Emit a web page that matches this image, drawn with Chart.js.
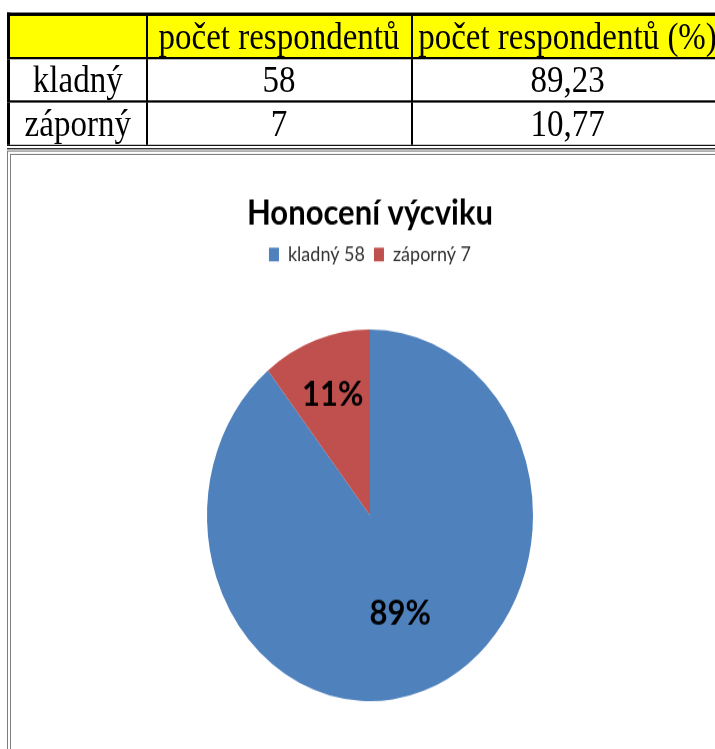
<!DOCTYPE html>
<html>
<head>
<meta charset="utf-8">
<script src="https://cdn.jsdelivr.net/npm/chart.js@4.4.0/dist/chart.umd.min.js"></script>
<style>
  html, body { margin: 0; height: 749px; overflow: hidden; background: #fff; }
  .page {
    position: relative; width: 715px; height: 700px; overflow: hidden;
    transform: scaleY(1.14); transform-origin: 0 0;
  }
  table.data {
    position: absolute; left: 7px; top: 11px; width: 714px;
    border-collapse: collapse; table-layout: fixed;
    font-family: "Liberation Serif", "Times New Roman", serif; font-size: 33px;
    color: #000;
  }
  table.data td {
    border: 2px solid #000; text-align: center; padding: 0; line-height: 1;
    white-space: nowrap; height: 36px;
  }
  table.data tr:first-child td { background: #ffff00; border-top-width: 3px; }
  table.data td:first-child { border-left-width: 3px; }
  table.data td:last-child { border-right: none; }
  table.data tr:last-child td { border-bottom: 4px double #000; height: 37px; }
  .box {
    position: absolute; left: 7px; top: 132px; width: 740px; height: 640px;
    border-left: 4px double #7f7f7f; border-top: 4px double #7f7f7f;
  }
  .chart-wrap { position: absolute; left: 0; top: 0; width: 724px; height: 540px; }
</style>
</head>
<body>
<div class="page">
  <table class="data">
    <colgroup><col style="width:138px"><col style="width:265px"><col style="width:311px"></colgroup>
    <tbody id="tbl"></tbody>
  </table>
  <div class="box">
    <div class="chart-wrap"><canvas id="pie"></canvas></div>
  </div>
</div>
<script>
var headers = ["", "počet respondentů", "počet respondentů (%)"];
var categories = ["kladný", "záporný"];
var counts = [58, 7];
var percents = ["89,23", "10,77"];
var chartTitle = "Honocení výcviku";
var colors = ["#4f81bd", "#c0504d"];

function build_table() {
  var tbl = document.getElementById("tbl");
  var tr = document.createElement("tr");
  headers.forEach(function (h) {
    var td = document.createElement("td");
    td.textContent = h;
    tr.appendChild(td);
  });
  tbl.appendChild(tr);
  categories.forEach(function (c, i) {
    var row = document.createElement("tr");
    [c, counts[i], percents[i]].forEach(function (v) {
      var td = document.createElement("td");
      td.textContent = v;
      row.appendChild(td);
    });
    tbl.appendChild(row);
  });
}

// percentage labels inside the slices
var sliceLabels = {
  id: "sliceLabels",
  afterDatasetsDraw: function (chart) {
    var ctx = chart.ctx;
    var meta = chart.getDatasetMeta(0);
    var data = chart.data.datasets[0].data;
    var total = data.reduce(function (a, b) { return a + b; }, 0);
    var factors = [0.56, 0.69];
    ctx.save();
    ctx.font = "bold 31px Lato";
    ctx.fillStyle = "#000";
    ctx.textAlign = "center";
    ctx.textBaseline = "middle";
    meta.data.forEach(function (arc, i) {
      var p = arc.getProps(["x", "y", "startAngle", "endAngle", "outerRadius"], true);
      var mid = (p.startAngle + p.endAngle) / 2;
      var r = p.outerRadius * factors[i];
      var txt = Math.round(data[i] / total * 100) + "%";
      ctx.fillText(txt, p.x + Math.cos(mid) * r, p.y + Math.sin(mid) * r);
    });
    ctx.restore();
  }
};

function pie_chart() {
  var config = {
    type: "pie",
    data: {
      labels: categories,
      datasets: [
        {
          data: counts,
          backgroundColor: colors,
          borderWidth: 0,
          radius: 163,
        },
      ],
    },
    options: {
      responsive: true,
      maintainAspectRatio: false,
      animation: false,
      layout: { padding: { bottom: 14, right: 6 } },
      plugins: {
        title: {
          display: true,
          text: chartTitle,
          color: "#000",
          font: { family: "Lato", size: 31, weight: "bold" },
          padding: { top: 32, bottom: 0 },
        },
        legend: {
          position: "top",
          labels: {
            color: "#333",
            font: { family: "Lato", size: 18 },
            boxWidth: 10,
            boxHeight: 12,
            padding: 9,
            generateLabels: function (chart) {
              var items = Chart.overrides.pie.plugins.legend.labels.generateLabels(chart);
              items.forEach(function (it, i) {
                it.text = categories[i] + " " + counts[i];
                it.lineWidth = 0;
              });
              return items;
            },
          },
        },
        tooltip: { enabled: false },
      },
    },
    plugins: [sliceLabels],
  };
  var canvas = document.getElementById("pie");
  canvas.chart = new Chart(canvas.getContext("2d"), config);
}

build_table();
pie_chart();
</script>
</body>
</html>
